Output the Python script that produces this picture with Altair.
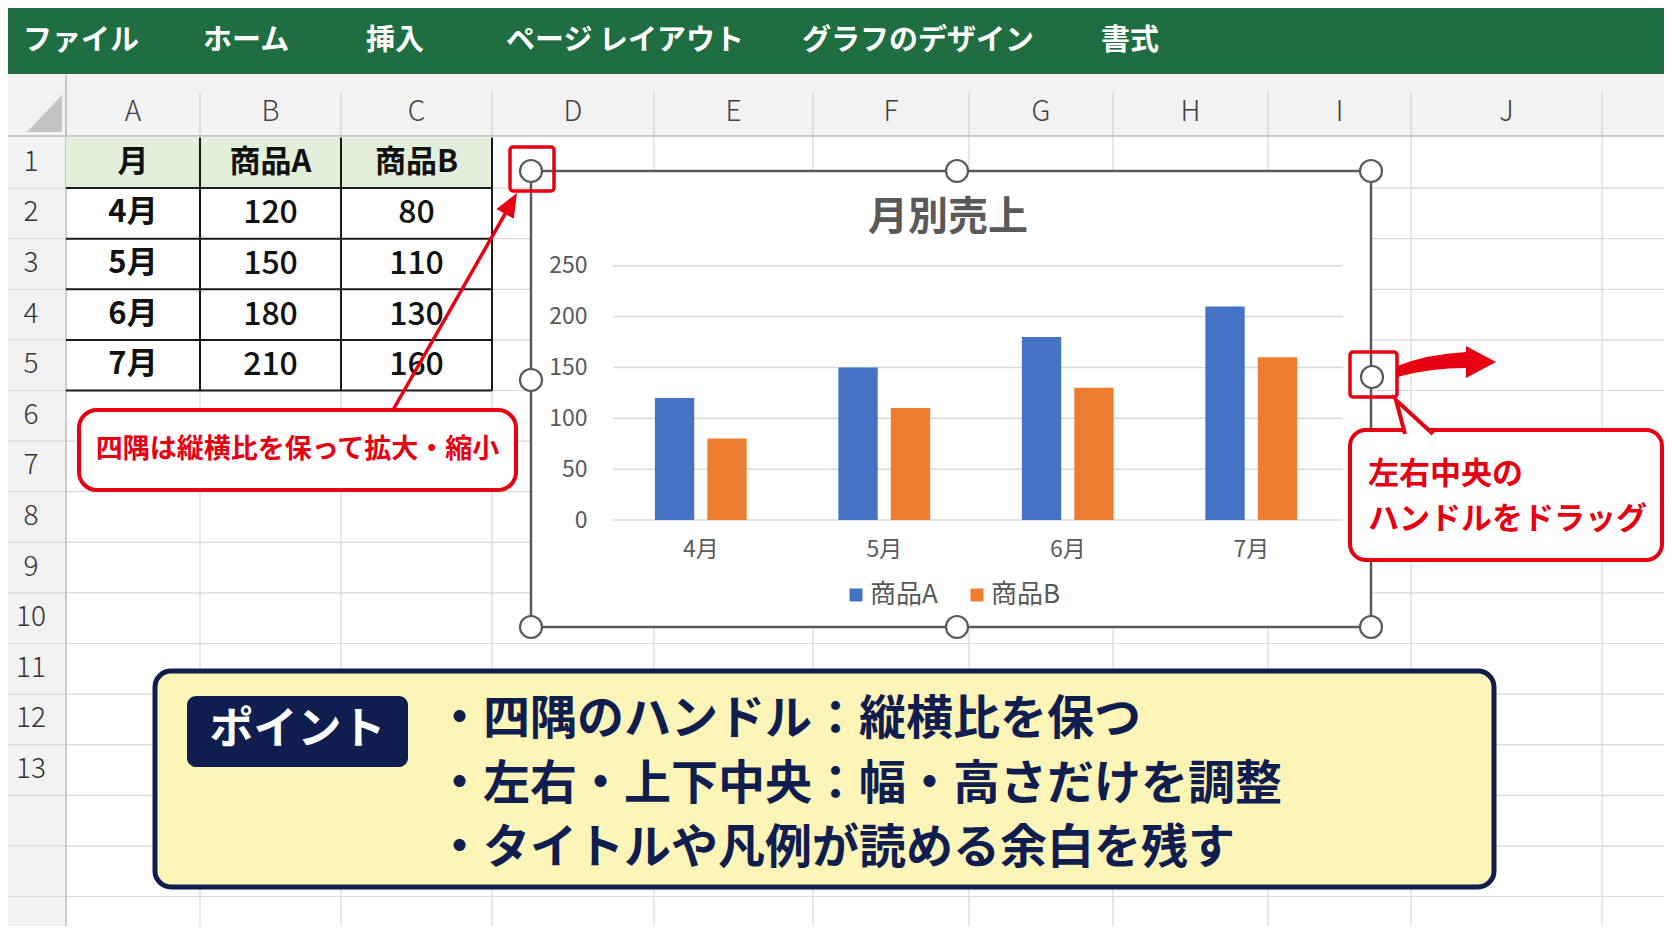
import math

import altair as alt
import pandas as pd

# chart values
months = ["4月", "5月", "6月", "7月"]
sales_a = [120, 150, 180, 210]
sales_b = [80, 110, 130, 160]
series = ["商品A", "商品B"]
series_colors = ["#4472c4", "#ed7d31"]
y_ticks = [0, 50, 100, 150, 200, 250]

# texts around the chart
menu_items = ["ファイル", "ホーム", "挿入", "ページ レイアウト", "グラフのデザイン", "書式"]
col_letters = ["A", "B", "C", "D", "E", "F", "G", "H", "I", "J"]
row_numbers = list(range(1, 14))
table_header = ["月"] + series
chart_title = "月別売上"
corner_note = "四隅は縦横比を保って拡大・縮小"
side_note = ["左右中央の", "ハンドルをドラッグ"]
point_label = "ポイント"
point_lines = [
    "・四隅のハンドル：縦横比を保つ",
    "・左右・上下中央：幅・高さだけを調整",
    "・タイトルや凡例が読める余白を残す",
]

# layout, in pixels of the 1672x941 screenshot (page margin is 8px)
OFF = 8
W, H = 1656, 918
FONT = "Noto Sans CJK JP"
GREEN = "#1e6e42"
RED = "#e60012"
NAVY = "#0f1d4f"
GRAY_TXT = "#595959"
FRAME = "#595959"

menu_x = [23, 203, 366, 506, 802, 1101]
col_edges = [0, 66, 200, 341, 492, 654, 813, 969, 1113, 1268, 1411, 1602, 1672]
row_top, row_h = 137.5, 50.6
chart_box = (531, 171, 1371, 627)
handles = [(531, 171), (957, 171), (1371, 171), (531, 380), (1372, 377),
           (531, 627), (957, 627), (1371, 627)]


def p(v):
    """Screenshot pixel -> plot pixel."""
    return v - OFF


def X(f):
    return alt.X(f"{f}:Q", scale=None, axis=None)


def Y(f):
    return alt.Y(f"{f}:Q", scale=None, axis=None)


def rects(boxes, **mark):
    df = pd.DataFrame([dict(x=p(a), y=p(b), x2=p(c), y2=p(d)) for a, b, c, d in boxes])
    return alt.Chart(df).mark_rect(**mark).encode(x=X("x"), x2="x2:Q", y=Y("y"), y2="y2:Q")


def rules(segs, **mark):
    df = pd.DataFrame([dict(x=p(a), y=p(b), x2=p(c), y2=p(d)) for a, b, c, d in segs])
    return alt.Chart(df).mark_rule(**mark).encode(x=X("x"), x2="x2:Q", y=Y("y"), y2="y2:Q")


def texts(items, **mark):
    df = pd.DataFrame([dict(x=p(a), y=p(b), t=s) for a, b, s in items])
    return alt.Chart(df).mark_text(font=FONT, baseline="middle", **mark).encode(
        x=X("x"), y=Y("y"), text="t:N")


def shape(cx, cy, spec, **mark):
    """Custom symbol; size=4 makes the path units plain pixels."""
    parts = []
    for cmd, *pts in spec:
        parts.append(cmd + " ".join(f"{x - cx:.1f},{y - cy:.1f}" for x, y in pts))
    df = pd.DataFrame([dict(x=p(cx), y=p(cy))])
    return alt.Chart(df).mark_point(shape=" ".join(parts), size=4, opacity=1, **mark).encode(
        x=X("x"), y=Y("y"))


# ---------- spreadsheet background ----------
n_rows = 17
row_lines = [row_top + k * row_h for k in range(n_rows)]
layers = [
    rects([(0, 74, 1672, 136)], color="#f2f2f2"),
    rects([(0, 136, 66, 941)], color="#f2f2f2"),
    rects([(0, 0, 1672, 74)], color=GREEN),
    rules([(0, y, 1672, y) for y in row_lines[1:]], color="#d9d9d9", strokeWidth=1.2),
    rules([(x, 136, x, 941) for x in col_edges[2:12]], color="#d9d9d9", strokeWidth=1.2),
    rules([(x, 92, x, 136) for x in col_edges[1:12]], color="#cfcfcf", strokeWidth=1.2),
    rules([(66, 74, 66, 941), (0, 136, 1672, 136)], color="#bdbdbd", strokeWidth=1.5),
    shape(62, 132, [("M", (27, 132)), ("L", (62, 95)), ("L", (62, 132)), ("Z",)],
          filled=True, color="#c4c4c4"),
    texts(list(zip(menu_x, [41] * 6, menu_items)), align="left", fontSize=29,
          fontWeight="bold", color="white"),
]

col_centers = [(col_edges[i] + col_edges[i + 1]) / 2 for i in range(1, 11)]
layers += [
    texts(list(zip(col_centers, [113] * 10, col_letters)), align="center", fontSize=28,
          fontWeight=300, color="#404040"),
    texts([(31, row_top + (n - 0.5) * row_h, str(n)) for n in row_numbers], align="center",
          fontSize=28, fontWeight=300, color="#333333"),
]

# ---------- data table A1:C5 ----------
tab_bottom = row_top + 5 * row_h
layers += [
    rects([(66, row_top, 492, row_top + row_h)], color="#e2efda"),
    rules([(66, row_top + k * row_h, 492, row_top + k * row_h) for k in range(1, 6)]
          + [(x, row_top, x, tab_bottom) for x in (200, 341, 492)],
          color="#1a1a1a", strokeWidth=2),
]
tc = col_centers[:3]
cells_bold = [(tc[i], row_top + 0.5 * row_h, table_header[i]) for i in range(3)]
cells_bold += [(tc[0], row_top + (r + 1.5) * row_h, m) for r, m in enumerate(months)]
cells_num = [(tc[1], row_top + (r + 1.5) * row_h, str(v)) for r, v in enumerate(sales_a)]
cells_num += [(tc[2], row_top + (r + 1.5) * row_h, str(v)) for r, v in enumerate(sales_b)]
layers += [
    texts(cells_bold, align="center", fontSize=31, fontWeight="bold", color="#111111"),
    texts(cells_num, align="center", fontSize=32, fontWeight=500, color="#111111"),
]

# ---------- the Excel chart ----------
layers += [
    rects([chart_box], fill="white", stroke=FRAME, strokeWidth=2.5),
    texts([(948, 218, chart_title)], align="center", fontSize=40, fontWeight="bold",
          color=GRAY_TXT),
]

bar_df = pd.DataFrame({
    "month": months * 2,
    "series": [series[0]] * len(months) + [series[1]] * len(months),
    "value": sales_a + sales_b,
})
x_scale = alt.Scale(domain=months, range=[p(609), p(1343)], paddingInner=0.5,
                    paddingOuter=0.25)
y_scale = alt.Scale(domain=[0, 250], range=[p(520), p(265.7)], nice=False)
y_axis = alt.Axis(values=y_ticks, orient="left", offset=-p(613), domain=False, ticks=False,
                  tickSize=0, grid=False, labelPadding=26, labelFont=FONT, labelFontSize=23,
                  labelColor=GRAY_TXT, title=None, zindex=1)
x_axis = alt.Axis(orient="bottom", offset=p(520) - H, domain=False, ticks=False, tickSize=0,
                  grid=False, labelPadding=18, labelAngle=0, labelFont=FONT,
                  labelFontSize=23, labelColor=GRAY_TXT, title=None, zindex=1)

gridlines = alt.Chart(pd.DataFrame({"value": y_ticks})).mark_rule(
    color="#d9d9d9", strokeWidth=1.5
).encode(
    y=alt.Y("value:Q", scale=y_scale, axis=y_axis),
    x=alt.value(p(613)),
    x2=alt.value(p(1343)),
)
bars = alt.Chart(bar_df).mark_bar().encode(
    x=alt.X("month:N", sort=months, scale=x_scale, axis=x_axis),
    xOffset=alt.XOffset("series:N", sort=series,
                        scale=alt.Scale(paddingInner=0.25, paddingOuter=0)),
    y=alt.Y("value:Q", scale=y_scale, axis=y_axis),
    color=alt.Color(
        "series:N",
        scale=alt.Scale(domain=series, range=series_colors),
        legend=alt.Legend(orient="none", legendX=p(843), legendY=p(582),
                          direction="horizontal", title=None, symbolType="square",
                          symbolSize=169, symbolStrokeWidth=0, labelFont=FONT,
                          labelFontSize=26, labelColor=GRAY_TXT, labelOffset=1,
                          columnPadding=26, padding=0),
    ),
)
layers.append(alt.layer(gridlines, bars))

# selection handles
hdf = pd.DataFrame([dict(x=p(a), y=p(b)) for a, b in handles])
layers.append(
    alt.Chart(hdf).mark_circle(size=484, color="white", stroke=FRAME, strokeWidth=2.2,
                               opacity=1).encode(x=X("x"), y=Y("y"))
)

# ---------- red annotations ----------
layers.append(rects([(510, 147, 554, 191), (1350, 352, 1397, 397)], fillOpacity=0,
                    stroke=RED, strokeWidth=3.5, cornerRadius=3))

# left callout and its straight arrow
start, tip = (393, 410), (517, 193)
length = math.hypot(tip[0] - start[0], tip[1] - start[1])
ux, uy = (tip[0] - start[0]) / length, (tip[1] - start[1]) / length
bx, by = tip[0] - 24 * ux, tip[1] - 24 * uy
layers += [
    rules([(start[0], start[1], bx + 2 * ux, by + 2 * uy)], color=RED, strokeWidth=3.5),
    shape(tip[0], tip[1], [("M", tip), ("L", (bx - 10 * uy, by + 10 * ux)),
                           ("L", (bx + 10 * uy, by - 10 * ux)), ("Z",)],
          filled=True, color=RED),
    rects([(79, 410, 516, 490)], fill="white", stroke=RED, strokeWidth=4, cornerRadius=18),
    texts([(297.5, 450, corner_note)], align="center", fontSize=27, fontWeight="bold",
          color=RED),
]

# right curved arrow, callout with tail
layers += [
    shape(1440, 362, [("M", (1397, 366)), ("Q", (1428, 354), (1466, 352)),
                      ("L", (1466, 346)), ("L", (1496, 362)), ("L", (1466, 378)),
                      ("L", (1466, 368)), ("Q", (1430, 368), (1397, 377)), ("Z",)],
          filled=True, color=RED),
    rects([(1350, 430, 1662, 560)], fill="white", stroke=RED, strokeWidth=4, cornerRadius=16),
    shape(1410, 420, [("M", (1405, 434)), ("L", (1396, 400)), ("L", (1433, 434))],
          filled=True, fill="white", stroke=RED, strokeWidth=4),
    texts([(1368, 475, side_note[0]), (1368, 520, side_note[1])], align="left", fontSize=31,
          fontWeight="bold", color=RED),
]

# ---------- point box ----------
layers += [
    rects([(155, 671, 1494, 887)], fill="#fdf4b8", stroke=NAVY, strokeWidth=5, cornerRadius=16),
    rects([(187, 696, 408, 767)], color=NAVY, cornerRadius=9),
    texts([(297.5, 731, point_label)], align="center", fontSize=44, fontWeight="bold",
          color="white"),
    texts(list(zip([436] * 3, [720, 785, 849], point_lines)), align="left", fontSize=47,
          fontWeight="bold", color=NAVY),
]

chart = (
    alt.layer(*layers)
    .resolve_scale(x="independent", y="independent", color="independent")
    .properties(width=W, height=H, padding=0, autosize=alt.AutoSizeParams(type="none"),
                background="white")
    .configure_view(stroke=None)
)

chart.save("out.html", embed_options={"renderer": "svg", "actions": False})
